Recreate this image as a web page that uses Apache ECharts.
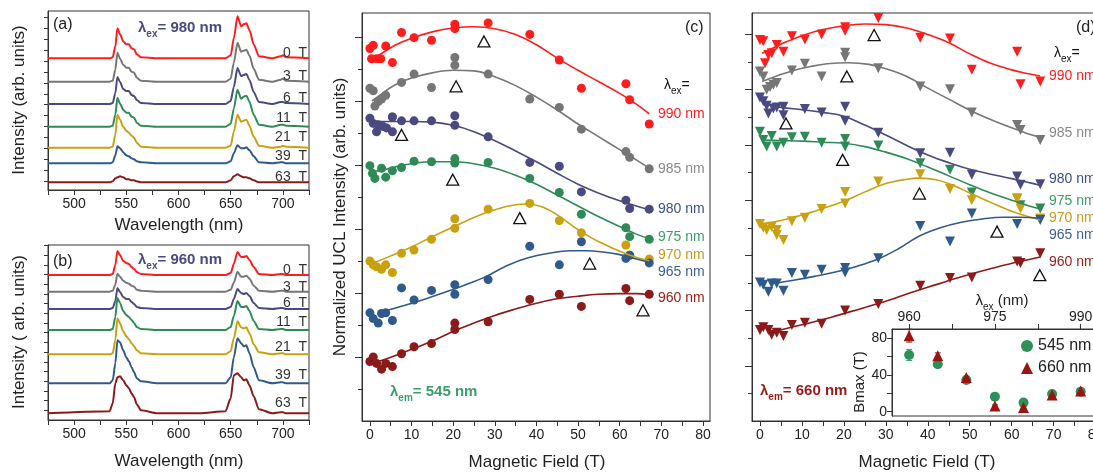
<!DOCTYPE html>
<html>
<head>
<meta charset="utf-8">
<title>UCL vs magnetic field</title>
<script src="https://cdn.jsdelivr.net/npm/echarts@6/dist/echarts.min.js"></script>
<style>
  html, body { margin: 0; padding: 0; background: #fff; }
  #main { width: 1093px; height: 473px; }
</style>
</head>
<body>
<div id="main"></div>
<script>
// ---- spectra (panels a, b): wavelength grid + height above each baseline ----
var wl = [475, 534, 537, 539.5, 541.5, 544, 547, 550, 552.5, 555, 557.5, 560, 564, 580, 620,
          645, 650, 653, 656.5, 660, 662.5, 665, 668, 672, 677, 690, 698, 700, 703, 725];
var fieldLabels = ['0  T', '3  T', '6  T', '11  T', '21  T', '39  T', '63  T'];
var specColors = ['#ff1c1c', '#767676', '#4a4a80', '#2e8b57', '#c9a010', '#2f5a8a', '#8b1a1a'];

var baseA = [131.7, 108.3, 86, 63.3, 42.3, 26.7, 7.7];
var specA = [
  [0,0,1,12,30,24,17,14,14,10,9,4,1,0, 0,0,3,20,42,32,34,35,28,14,2,0,2,3,1,0],
  [0,0,1,12,29,23,17,14,14,10,9,4,1,0, 0,0,3,19,39,30,31,32,26,13,2,0,2,3,1,0],
  [0,0,1,11,27,22,15,13,13,9,8,4,1,0, 0,0,3,17,36,28,29,30,24,12,2,0,2,2,1,0],
  [0,0,1,12,29,23,17,14,14,10,9,4,1,0, 0,0,3,18,37,28,30,31,25,12,2,0,2,2,1,0],
  [0,0,1,13,33,28,21,17,15,12,10,5,1,0, 0,0,2,16,33,26,27,28,22,11,2,0,1,2,1,0],
  [0,0,1,8,17,15,11,8,7,5,4,2,1,0, 0,0,2,10,18,15,15,16,13,7,1,0,1,1,0,0],
  [0,0,1,4,5,6,5,3,3,2,2,1,0,0, 0,0,2,6,8,6,5,5,4,2,0,0,0,0,0,0]
];
var baseB = [145, 128.3, 111, 90, 65.7, 36.7, 6.7];
var specB = [
  [0,0,1,10,24,20,14,12,11,8,6,3,1,0, 0,0,2,11,23,18,18,19,15,8,1,0,1,1,0,0],
  [0,0,1,7,18,15,11,9,8,6,5,2,1,0, 0,0,2,9,20,15,15,16,13,6,1,0,1,1,0,0],
  [0,0,1,8,21,17,12,10,10,7,5,2,1,0, 0,0,2,10,20,16,15,16,13,6,1,0,1,1,0,0],
  [0,0,1,13,32,27,19,15,13,10,7,3,1,0, 0,0,3,14,29,23,23,24,19,9,1,0,1,1,0,0],
  [0,0,1,14,36,31,23,18,15,11,8,4,1,0, 0,0,3,16,33,27,26,27,21,10,2,0,1,1,0,0],
  [0,0,3,20,43,41,33,26,22,16,11,5,2,0, 0,0,6,26,45,40,37,38,30,16,3,0,1,1,0,0],
  [0,2,10,30,36,37,33,28,25,20,16,9,3,0, 0,2,15,38,40,36,33,34,28,17,4,0,1,1,0,0]
];

// ---- panel c: lambda_em = 545 nm, [field T, normalized intensity] ----
var exLabels = ['990 nm', '985 nm', '980 nm', '975 nm', '970 nm', '965 nm', '960 nm'];
var exColors = ['#ff1c1c', '#767676', '#4a4a80', '#2e8b57', '#c9a010', '#2f5a8a', '#8b1a1a'];
var exLabelColors = ['#ff1c1c', '#8a8a8a', '#3f4f86', '#3a9e6a', '#c99a1a', '#3d5f8f', '#9a1a14'];

var c990 = [[0,5.82],[0.8,5.87],[0.4,5.66],[1.6,5.66],[2.6,5.66],[3.8,5.86],[5.4,5.6],[7.6,6.07],[10.6,5.99],[14.8,5.95],[20.4,6.2],[20.4,6.13],[28.4,6.22],[38.4,6.04],[45.5,5.64],[50.8,5.2],[61.5,5.27],[62.4,5.02],[67.1,4.64]];
var c985 = [[0,5.2],[0.8,5.16],[1.2,4.92],[2,4.99],[2.8,5.03],[3.8,5.09],[5.4,4.75],[7.6,5.29],[10.6,5.42],[14.8,5.21],[20.4,5.68],[20.4,5.56],[28.4,5.42],[38.4,5.03],[45.5,4.9],[50.8,4.56],[61.5,4.21],[62.4,4.12],[67.1,3.94]];
var c980 = [[0,4.73],[0.8,4.65],[1.6,4.52],[2,4.63],[3.2,4.6],[4,4.58],[5.4,4.52],[5.4,4.75],[7.6,4.69],[10.6,4.69],[14.8,4.69],[20.4,4.77],[20.4,4.62],[28.4,4.44],[38.4,4.04],[45.5,3.98],[50.8,3.58],[61.5,3.45],[62.4,3.32],[67.1,3.31]];
var c975 = [[0,3.99],[0.6,3.87],[1.2,3.79],[2.8,3.95],[3.8,3.81],[5.4,3.91],[7.6,3.96],[10.6,4.06],[14.8,4.05],[20.4,4.1],[20.4,4.03],[28.4,4.04],[38.4,3.79],[45.5,3.57],[50.8,3.23],[61.5,3.02],[62.4,2.88],[67.1,2.84]];
var c970 = [[0,2.5],[0.8,2.44],[1.6,2.41],[2.8,2.37],[3.8,2.44],[5.4,2.32],[7.6,2.62],[10.6,2.67],[14.8,2.84],[20.4,3.16],[20.4,3.01],[28.4,3.31],[38.4,3.4],[45.5,3.13],[50.8,2.94],[61.5,2.75],[62.4,2.59],[67.1,2.53]];
var c965 = [[0,1.69],[0.8,1.6],[2,1.53],[2.8,1.68],[3.8,1.69],[5.4,1.57],[7.6,2.08],[10.6,1.89],[14.8,2.04],[20.4,2.13],[20.4,1.98],[28.4,2.21],[38.4,2.73],[45.5,2.44],[50.8,2.8],[61.5,2.54],[62.4,2.59],[67.1,2.47]];
var c960 = [[0,0.93],[0.8,1.0],[1.6,0.9],[2.8,0.81],[3.8,0.9],[5.4,0.85],[7.6,1.05],[10.6,1.16],[14.8,1.21],[20.4,1.53],[20.4,1.43],[28.4,1.55],[38.4,1.9],[45.5,1.98],[50.8,1.79],[61.5,2.07],[62.4,1.88],[67.1,1.98]];

var fitC990 = [[0.3,5.65],[3,5.75],[6,5.87],[10,5.98],[15,6.08],[20,6.14],[25,6.16],[30,6.13],[35,6.04],[40,5.88],[45,5.67],[50,5.48],[55,5.3],[60,5.12],[64,4.95],[67.1,4.8]];
var fitC985 = [[0.5,5.0],[3,5.12],[6,5.25],[10,5.36],[15,5.44],[20,5.48],[25,5.47],[30,5.38],[35,5.24],[40,5.06],[45,4.86],[50,4.64],[55,4.44],[60,4.24],[64,4.08],[67.1,3.95]];
var fitC980 = [[0.3,4.68],[5,4.68],[10,4.68],[15,4.67],[20,4.62],[25,4.52],[30,4.38],[35,4.22],[40,4.05],[45,3.87],[50,3.7],[55,3.56],[60,3.44],[64,3.36],[67.1,3.3]];
var fitC975 = [[0.3,3.9],[3,3.92],[6,3.97],[10,4.02],[15,4.05],[20,4.05],[25,4.02],[30,3.95],[35,3.84],[40,3.7],[45,3.53],[50,3.36],[55,3.19],[60,3.04],[64,2.92],[67.1,2.85]];
var fitC970 = [[0.5,2.46],[5,2.58],[10,2.72],[15,2.88],[20,3.03],[25,3.18],[30,3.3],[35,3.38],[38,3.39],[42,3.33],[45,3.22],[50,2.99],[55,2.8],[62,2.6],[67.1,2.5]];
var fitC965 = [[3,1.71],[8,1.8],[13,1.9],[18,2.01],[23,2.13],[28,2.26],[33,2.43],[38,2.55],[43,2.62],[48,2.66],[52,2.66],[56,2.64],[60,2.6],[64,2.53],[67.1,2.48]];
var fitC960 = [[2,0.93],[6,1.02],[10,1.12],[15,1.25],[20,1.4],[25,1.53],[30,1.65],[35,1.75],[40,1.84],[45,1.91],[50,1.95],[55,1.98],[60,1.99],[64,1.99],[67.1,1.97]];
var bmaxC = [[27.4,5.93],[20.7,5.23],[7.6,4.47],[19.9,3.77],[36,3.17],[52.8,2.46],[65.6,1.73]];

// ---- panel d: lambda_em = 660 nm ----
var d990 = [[0,6.9],[0.8,6.88],[1.2,6.48],[2,6.63],[2.8,6.66],[4,6.81],[5.6,6.69],[7.6,6.97],[10.7,6.91],[14.7,7.0],[20.3,7.13],[20.3,7.07],[28.2,7.3],[38.2,6.94],[45.3,6.93],[50.5,6.36],[61.3,6.69],[62.1,6.1],[66.8,6.15]];
var d985 = [[0,6.33],[0.8,6.24],[1.6,6.0],[2.4,6.05],[3.2,6.09],[4,6.12],[7.6,6.35],[10.7,6.47],[14.7,6.24],[20.3,6.67],[20.3,6.59],[28.2,6.39],[38.2,6.06],[45.3,6.01],[50.5,5.59],[61.3,5.36],[62.1,5.27],[66.8,5.09]];
var d980 = [[0,5.86],[0.8,5.79],[1.6,5.71],[2,5.57],[3.2,5.66],[4,5.68],[5.6,5.69],[5.6,5.54],[10.7,5.65],[14.7,5.59],[20.3,5.69],[20.3,5.44],[28.2,5.22],[38.2,4.85],[45.3,4.86],[50.5,4.46],[61.3,4.43],[62.1,4.28],[66.8,4.29]];
var d975 = [[0,5.24],[0.8,5.09],[1.6,4.97],[2.8,5.16],[4,4.97],[5.6,5.04],[7.6,5.14],[10.7,5.15],[14.7,5.04],[20.3,5.11],[20.3,4.97],[28.2,4.99],[38.2,4.67],[45.3,4.55],[50.5,4.14],[61.3,4.03],[62.1,3.91],[66.8,3.85]];
var d970 = [[0,3.57],[0.8,3.5],[1.6,3.46],[2.8,3.52],[4,3.46],[4,3.37],[5.6,3.28],[7.6,3.62],[10.7,3.68],[14.7,3.84],[20.3,4.15],[20.3,3.94],[28.2,4.34],[38.2,4.47],[45.3,4.2],[50.5,4.0],[61.3,4.02],[62.1,3.85],[66.8,3.67]];
var d965 = [[0,2.51],[0.8,2.47],[2,2.34],[2.8,2.49],[4,2.49],[5.6,2.36],[7.6,2.68],[10.7,2.65],[14.7,2.74],[20.3,2.77],[20.3,2.69],[28.2,2.95],[38.2,3.53],[45.3,3.25],[50.5,3.76],[61.3,3.57],[66.8,3.64]];
var d960 = [[0,1.65],[0.8,1.7],[2,1.65],[2.8,1.56],[4,1.6],[5.6,1.54],[7.6,1.74],[10.7,1.78],[14.7,1.76],[20.3,2.0],[28.2,2.12],[38.2,2.45],[45.3,2.59],[50.5,2.6],[61.3,2.89],[62.1,2.86],[66.8,3.04]];

var fitD990 = [[0.5,6.66],[3,6.75],[6,6.86],[10,6.98],[15,7.09],[20,7.16],[25,7.19],[30,7.18],[35,7.12],[40,7.0],[45,6.85],[50,6.65],[55,6.48],[60,6.36],[64,6.29],[66.8,6.25]];
var fitD985 = [[0.5,6.15],[4,6.25],[8,6.35],[12,6.42],[16,6.47],[21,6.49],[26,6.46],[30,6.38],[35,6.24],[40,6.03],[45,5.83],[50,5.63],[55,5.46],[60,5.31],[64,5.2],[66.8,5.14]];
var fitD980 = [[0.5,5.76],[5,5.68],[10,5.64],[15,5.59],[20,5.52],[25,5.36],[30,5.18],[35,4.99],[40,4.82],[45,4.68],[50,4.56],[55,4.47],[60,4.39],[64,4.32],[66.8,4.27]];
var fitD975 = [[0.5,5.09],[5,5.08],[10,5.07],[15,5.05],[20,5.03],[25,4.97],[30,4.87],[35,4.75],[40,4.6],[45,4.44],[50,4.28],[55,4.13],[60,4.0],[64,3.9],[66.8,3.84]];
var fitD970 = [[0.5,3.57],[5,3.63],[10,3.73],[15,3.85],[20,3.98],[25,4.15],[30,4.3],[35,4.38],[38,4.4],[42,4.37],[46,4.27],[50,4.13],[55,3.96],[60,3.8],[64,3.7],[66.8,3.64]];
var fitD965 = [[3,2.49],[8,2.55],[13,2.62],[18,2.7],[23,2.8],[28,2.93],[33,3.12],[38,3.35],[43,3.5],[48,3.6],[53,3.66],[58,3.69],[62,3.69],[66.8,3.67]];
var fitD960 = [[2.5,1.6],[7,1.69],[12,1.78],[17,1.88],[22,1.99],[27,2.1],[32,2.22],[37,2.35],[42,2.47],[47,2.59],[52,2.7],[57,2.8],[62,2.89],[66.8,2.97]];
var bmaxD = [[27.2,6.99],[20.7,6.24],[6.2,5.39],[19.7,4.73],[38,4.12],[56.5,3.43],[66.7,2.64]];

// ---- inset: Bmax vs excitation wavelength ----
var exc = [960, 965, 970, 975, 980, 985, 990];
var bmax545 = [61.5, 51.4, 34.4, 16.3, 9.8, 19.2, 21.7];
var err545 = [6, 1.5, 1, 1, 1, 1, 1];
var bmax660 = [82.4, 60.7, 36.9, 6.2, 4.4, 18.1, 22.4];
var err660 = [7, 3, 1.5, 1, 1, 1, 1];

// ---- tick values ----
var wlLabels = [500, 550, 600, 650, 700];
var wlTicks = [475, 500, 525, 550, 575, 600, 625, 650, 675, 700, 725];
var fieldTickLabels = [0, 10, 20, 30, 40, 50, 60, 70, 80];
var fieldTicks = [0, 5, 10, 15, 20, 25, 30, 35, 40, 45, 50, 55, 60, 65, 70, 75, 80];
var insetXLabels = [960, 975, 990];
var insetXTicks = [960, 967.5, 975, 982.5, 990];
var insetYLabels = [0, 40, 80];
var insetYTicks = [0, 20, 40, 60, 80];

var FONT = '"Liberation Sans", Arial, Helvetica, sans-serif';
var AX = '#333';

function range(a, b, s) { var r = []; for (var v = a; v <= b + 1e-9; v += s) r.push(+v.toFixed(3)); return r; }

var xAxes = [], yAxes = [];
function axis(grid, min, max, pos, ticks, len, labels, line) {
  return {
    type: 'value', gridIndex: grid, position: pos, min: min, max: max,
    axisLine: { show: line !== false, onZero: false, lineStyle: { color: AX, width: 1 } },
    splitLine: { show: false },
    axisTick: { show: true, customValues: ticks, length: len, lineStyle: { color: AX, width: 1 } },
    axisLabel: { show: !!labels, customValues: labels || [], fontSize: 14, color: '#222', margin: 7, fontFamily: FONT }
  };
}

// grids: a, b, c, d, inset  (d and the inset run past the right edge, as in the figure)
var grids = [
  { left: 48, top: 11, width: 261, height: 179 },
  { left: 48, top: 245, width: 261, height: 175 },
  { left: 362, top: 13, width: 348, height: 408 },
  { left: 752, top: 13, width: 352, height: 408 },
  { left: 892, top: 329, width: 223, height: 87, backgroundColor: '#fff' }
].map(function (g) {
  g.show = true; g.borderColor = AX; g.borderWidth = 1;
  if (!g.backgroundColor) g.backgroundColor = 'transparent';
  g.containLabel = false; g.outerBoundsMode = 'none';
  return g;
});

// panel a, b
xAxes.push(axis(0, 475, 725, 'bottom', wlTicks, 5, wlLabels));
yAxes.push(axis(0, 0, 179, 'left', range(9, 175, 10.9), 4, null));
xAxes.push(axis(1, 475, 725, 'bottom', wlTicks, 5, wlLabels));
yAxes.push(axis(1, 0, 175, 'left', range(9.7, 175, 9.7), 4, null));
// panel c
xAxes.push(axis(2, -1.9, 81.7, 'bottom', fieldTicks, 5, fieldTickLabels));
yAxes.push(axis(2, 0, 6.375, 'left', [1, 2, 3, 4, 5, 6], 7, null));
// panel d
xAxes.push(axis(3, -1.9, 82, 'bottom', fieldTicks, 5, fieldTickLabels));
yAxes.push(axis(3, 0, 7.39, 'left', [1, 2, 3, 4, 5, 6, 7], 7, null));
// inset
xAxes.push(axis(4, 957, 996, 'top', insetXTicks, 5, insetXLabels));
yAxes.push(axis(4, -4.7, 89.6, 'left', insetYTicks, 5, insetYLabels));
xAxes[4].axisLabel.margin = 5;
yAxes[4].axisLabel.margin = 5;
// minor ticks (extra axes without line)
yAxes.push(axis(2, 0, 6.375, 'left', [0.5, 1.5, 2.5, 3.5, 4.5, 5.5], 4, null, false));
yAxes.push(axis(3, 0, 7.39, 'left', [0.5, 1.5, 2.5, 3.5, 4.5, 5.5, 6.5], 4, null, false));

var series = [];
function addSpectra(grid, base, spec) {
  spec.forEach(function (vals, i) {
    series.push({
      type: 'line', xAxisIndex: grid, yAxisIndex: grid, showSymbol: false, silent: true,
      smooth: 0.25, smoothMonotone: 'x',
      lineStyle: { color: specColors[i], width: 2 },
      data: wl.map(function (w, k) { return [w, base[i] + vals[k]]; })
    });
  });
}
addSpectra(0, baseA, specA);
addSpectra(1, baseB, specB);

function addField(grid, pts, fits, bmax, symbol) {
  pts.forEach(function (p, i) {
    series.push({
      type: 'scatter', xAxisIndex: grid, yAxisIndex: grid, data: p,
      symbol: symbol, symbolSize: symbol === 'circle' ? 9 : 10, symbolRotate: symbol === 'circle' ? 0 : 180,
      itemStyle: { color: exColors[i], opacity: 1 }
    });
    series.push({
      type: 'line', xAxisIndex: grid, yAxisIndex: grid, data: fits[i], showSymbol: false,
      smooth: 0.4, lineStyle: { color: exColors[i], width: 1.6 }, z: 3
    });
  });
  series.push({
    type: 'scatter', xAxisIndex: grid, yAxisIndex: grid, data: bmax, symbol: 'triangle', symbolSize: [12, 11],
    itemStyle: { color: 'rgba(255,255,255,0)', borderColor: '#111', borderWidth: 1.3, opacity: 1 }, z: 4
  });
}
addField(2, [c990, c985, c980, c975, c970, c965, c960], [fitC990, fitC985, fitC980, fitC975, fitC970, fitC965, fitC960], bmaxC, 'circle');
addField(3, [d990, d985, d980, d975, d970, d965, d960], [fitD990, fitD985, fitD980, fitD975, fitD970, fitD965, fitD960], bmaxD, 'triangle');

function errBars(vals, errs, color) {
  return {
    type: 'custom', xAxisIndex: 4, yAxisIndex: 4, z: 5,
    data: exc.map(function (x, i) { return [x, vals[i], errs[i]]; }),
    renderItem: function (params, api) {
      var x = api.value(0), y = api.value(1), e = api.value(2);
      var lo = api.coord([x, y - e]), hi = api.coord([x, y + e]);
      var st = { stroke: color, lineWidth: 1 };
      return { type: 'group', children: [
        { type: 'line', shape: { x1: lo[0], y1: lo[1], x2: hi[0], y2: hi[1] }, style: st },
        { type: 'line', shape: { x1: lo[0] - 3, y1: lo[1], x2: lo[0] + 3, y2: lo[1] }, style: st },
        { type: 'line', shape: { x1: hi[0] - 3, y1: hi[1], x2: hi[0] + 3, y2: hi[1] }, style: st }
      ] };
    }
  };
}
series.push(errBars(bmax545, err545, '#3a9e6a'));
series.push(errBars(bmax660, err660, '#9a1a14'));
series.push({
  name: '545 nm', type: 'scatter', xAxisIndex: 4, yAxisIndex: 4, symbol: 'circle', symbolSize: 10, z: 6,
  itemStyle: { color: '#2e9058', opacity: 1 }, data: exc.map(function (x, i) { return [x, bmax545[i]]; })
});
series.push({
  name: '660 nm', type: 'scatter', xAxisIndex: 4, yAxisIndex: 4, symbol: 'triangle', symbolSize: 11, z: 7,
  itemStyle: { color: '#9a1410', opacity: 1 }, data: exc.map(function (x, i) { return [x, bmax660[i]]; })
});

// ---- texts ----
var graphics = [];
function txt(x, y, s, o) {
  o = o || {};
  graphics.push({
    type: 'text', x: x, y: y, rotation: o.rot || 0, z: 100,
    style: {
      text: s, fill: o.color || '#222', font: (o.weight || 'normal') + ' ' + (o.size || 14) + 'px ' + FONT,
      textAlign: o.align || 'left', textVerticalAlign: 'middle'
    }
  });
}
function lam(sub, rest, size, color, weight) {
  return {
    text: '{a|λ}{s|' + sub + '}{a|' + rest + '}',
    rich: {
      a: { fontSize: size, fontWeight: weight, fill: color, fontFamily: FONT, lineHeight: size + 4, verticalAlign: 'top' },
      s: { fontSize: Math.round(size * 0.68), fontWeight: weight, fill: color, fontFamily: FONT, lineHeight: size + 4, verticalAlign: 'bottom', padding: [8, 0, 0, 0] }
    }
  };
}
function richTxt(x, y, r, align) {
  graphics.push({ type: 'text', x: x, y: y, z: 100, style: { text: r.text, rich: r.rich, textAlign: align || 'left', textVerticalAlign: 'middle' } });
}

// axis titles
txt(19, 100, 'Intensity (arb. units)', { rot: Math.PI / 2, align: 'center', size: 17 });
txt(19, 332, 'Intensity ( arb. units)', { rot: Math.PI / 2, align: 'center', size: 17 });
txt(340, 217, 'Normalized UCL Intensity (arb. units)', { rot: Math.PI / 2, align: 'center', size: 17 });
txt(179, 225, 'Wavelength (nm)', { align: 'center', size: 17 });
txt(179, 461, 'Wavelength (nm)', { align: 'center', size: 17 });
txt(537, 462, 'Magnetic Field (T)', { align: 'center', size: 17 });
txt(927, 462, 'Magnetic Field (T)', { align: 'center', size: 17 });

// panel letters
txt(53, 25, '(a)', { size: 16 });
txt(53, 262, '(b)', { size: 16 });
txt(685, 28, '(c)', { size: 16 });
txt(1076, 28, '(d)', { size: 16 });

// excitation labels in a, b
richTxt(138, 30, lam('ex', '= 980 nm', 15, '#4a4a80', 'bold'));
richTxt(138, 262, lam('ex', '= 960 nm', 15, '#4a4a80', 'bold'));
var labYA = [53, 76, 98, 118, 137, 156, 177];
var labYB = [270, 287, 303, 322, 347, 375, 403];
fieldLabels.forEach(function (s, i) {
  txt(307, labYA[i], s, { align: 'right', color: '#333' });
  txt(307, labYB[i], s, { align: 'right', color: '#333' });
});

// panel c, d curve labels
richTxt(664, 87, lam('ex', '=', 14, '#111', 'normal'));
richTxt(1054, 55, lam('ex', '=', 14, '#111', 'normal'));
var labYC = [114, 169, 209, 237, 255, 272, 298];
var labYD = [76, 133, 179, 201, 218, 235, 262];
exLabels.forEach(function (s, i) {
  txt(658, labYC[i], s, { color: exLabelColors[i] });
  txt(1049, labYD[i], s, { color: exLabelColors[i] });
});
richTxt(390, 394, lam('em', '= 545 nm', 15, '#3a9e6a', 'bold'));
richTxt(760, 393, lam('em', '= 660 nm', 15, '#9a1a14', 'bold'));

// inset titles
richTxt(1002, 303, lam('ex', ' (nm)', 15, '#222', 'normal'), 'center');
txt(860, 382, 'Bmax (T)', { rot: Math.PI / 2, align: 'center', size: 15 });

var chart = echarts.init(document.getElementById('main'), null, { renderer: 'canvas' });
chart.setOption({
  animation: false,
  backgroundColor: '#fff',
  textStyle: { fontFamily: FONT },
  grid: grids,
  xAxis: xAxes,
  yAxis: yAxes,
  legend: {
    orient: 'vertical', left: 1016, top: 333, itemWidth: 12, itemHeight: 12, itemGap: 6,
    data: ['545 nm', '660 nm'], textStyle: { fontSize: 16, color: '#222', fontFamily: FONT }
  },
  series: series,
  graphic: graphics
});
</script>
</body>
</html>
